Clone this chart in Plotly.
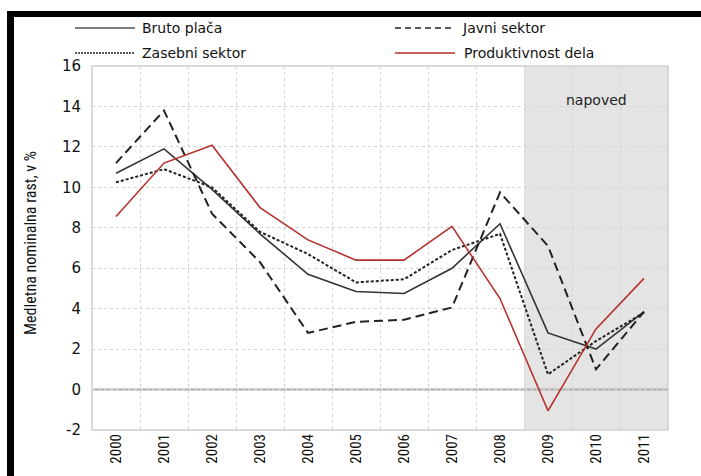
import plotly.graph_objects as go

years = ["2000", "2001", "2002", "2003", "2004", "2005", "2006", "2007", "2008", "2009", "2010", "2011"]
bruto = [10.7, 11.9, 9.9, 7.7, 5.7, 4.85, 4.75, 6.0, 8.2, 2.8, 2.0, 3.85]
javni = [11.2, 13.8, 8.7, 6.3, 2.8, 3.35, 3.45, 4.06, 9.75, 7.1, 1.0, 3.85]
zasebni = [10.25, 10.9, 10.0, 7.8, 6.7, 5.3, 5.45, 6.9, 7.7, 0.75, 2.4, 3.8]
produkt = [8.56, 11.2, 12.08, 9.0, 7.4, 6.4, 6.4, 8.07, 4.5, -1.05, 3.0, 5.5]
y_ticks = [-2, 0, 2, 4, 6, 8, 10, 12, 14, 16]
y_ticktext = ["-2", "0", "2", "4", "6", "8", "10", "12", "14", "16"]
forecast_start = 8.5

xs = list(range(len(years)))

series = [
    ("Bruto plača", bruto, dict(color="#333333", width=1.6, dash="solid")),
    ("Javni sektor", javni, dict(color="#222222", width=2, dash="9px,5px")),
    ("Zasebni sektor", zasebni, dict(color="#222222", width=2, dash="3px,2px")),
    ("Produktivnost dela", produkt, dict(color="#b5312d", width=1.6, dash="solid")),
]

fig = go.Figure()
for name, vals, ln in series:
    fig.add_trace(go.Scatter(x=xs, y=vals, mode="lines", name=name, line=ln, showlegend=False,
                             hoverinfo="skip"))

# Plot geometry (pixels)
W, H = 701, 476
L, R, T, B = 92, 33, 66, 46
pw, ph = W - L - R, H - T - B

def px(x):
    return (x - L) / pw

def py(y):
    return (H - B - y) / ph

shapes = []
shapes.append(dict(type="rect", xref="x", yref="paper", x0=forecast_start, x1=11.5, y0=0, y1=1,
                   fillcolor="#e4e4e4", line=dict(width=0), layer="below"))
shapes.append(dict(type="line", xref="paper", yref="y", x0=0, x1=1, y0=0, y1=0,
                   line=dict(color="#a8a8a8", width=2), layer="below"))
shapes.append(dict(type="rect", xref="paper", yref="paper", x0=0, x1=1, y0=0, y1=1,
                   line=dict(color="#d0d0d0", width=1.5), layer="above"))
shapes.append(dict(type="rect", xref="paper", yref="paper", x0=px(7), x1=px(701), y0=py(17), y1=py(11),
                   fillcolor="black", line=dict(width=0)))
shapes.append(dict(type="rect", xref="paper", yref="paper", x0=px(7), x1=px(14), y0=py(476), y1=py(11),
                   fillcolor="black", line=dict(width=0)))

legend_pos = [(75, 135, 140, 28), (395, 455, 460, 28), (75, 135, 140, 53), (395, 455, 462, 53)]
legend_dash = {"Bruto plača": "solid", "Javni sektor": "6px,4px", "Zasebni sektor": "2px,1px",
               "Produktivnost dela": "solid"}
annotations = []
for (name, vals, ln), (x0, x1, tx, yy) in zip(series, legend_pos):
    shapes.append(dict(type="line", xref="paper", yref="paper", x0=px(x0), x1=px(x1), y0=py(yy), y1=py(yy),
                       line=dict(color="#555555" if name == "Bruto plača" else ln["color"],
                                 width=1.3, dash=legend_dash[name])))
    annotations.append(dict(text=name, xref="paper", yref="paper", x=px(tx), y=py(yy), xanchor="left",
                            yanchor="middle", showarrow=False,
                            font=dict(family="DejaVu Sans, sans-serif", size=14, color="#111111")))

annotations.append(dict(text="napoved", xref="x", yref="y", x=10, y=14.3, showarrow=False,
                        font=dict(family="DejaVu Sans, sans-serif", size=14, color="#222222")))
annotations.append(dict(text="Medletna nominalna rast, v %", xref="paper", yref="paper", x=px(30), y=py(243),
                        textangle=-90, showarrow=False, xanchor="center", yanchor="middle",
                        font=dict(family="Liberation Sans Narrow, Roboto Condensed, Roboto, sans-serif", size=16, color="#111111")))

fig.update_layout(
    width=W, height=H,
    margin=dict(l=L, r=R, t=T, b=B, pad=0),
    paper_bgcolor="white", plot_bgcolor="rgba(0,0,0,0)",
    shapes=shapes, annotations=annotations, hovermode=False,
    xaxis=dict(range=[-0.5, 11.5], tickvals=xs, ticktext=years, tickangle=-90, showgrid=False,
               zeroline=False, showline=False, ticks="",
               tickfont=dict(family="Liberation Sans Narrow, Roboto Condensed, Roboto, sans-serif", size=15, color="#111111"),
               minor=dict(tickvals=[i + 0.5 for i in range(-1, 12)], showgrid=True, gridcolor="#d4d4d4",
                          griddash="dot", gridwidth=1, ticks="")),
    yaxis=dict(range=[-2, 16], tickvals=y_ticks, ticktext=y_ticktext, showgrid=True, gridcolor="#d4d4d4",
               griddash="dot", gridwidth=1, zeroline=False, showline=False, ticks="", ticklabelstandoff=10,
               tickfont=dict(family="DejaVu Sans, sans-serif", size=15, color="#111111")),
)

fig.write_html("out.html", config={"displayModeBar": False, "staticPlot": True},
               post_script="document.body.style.margin='0';document.body.style.padding='0';")
